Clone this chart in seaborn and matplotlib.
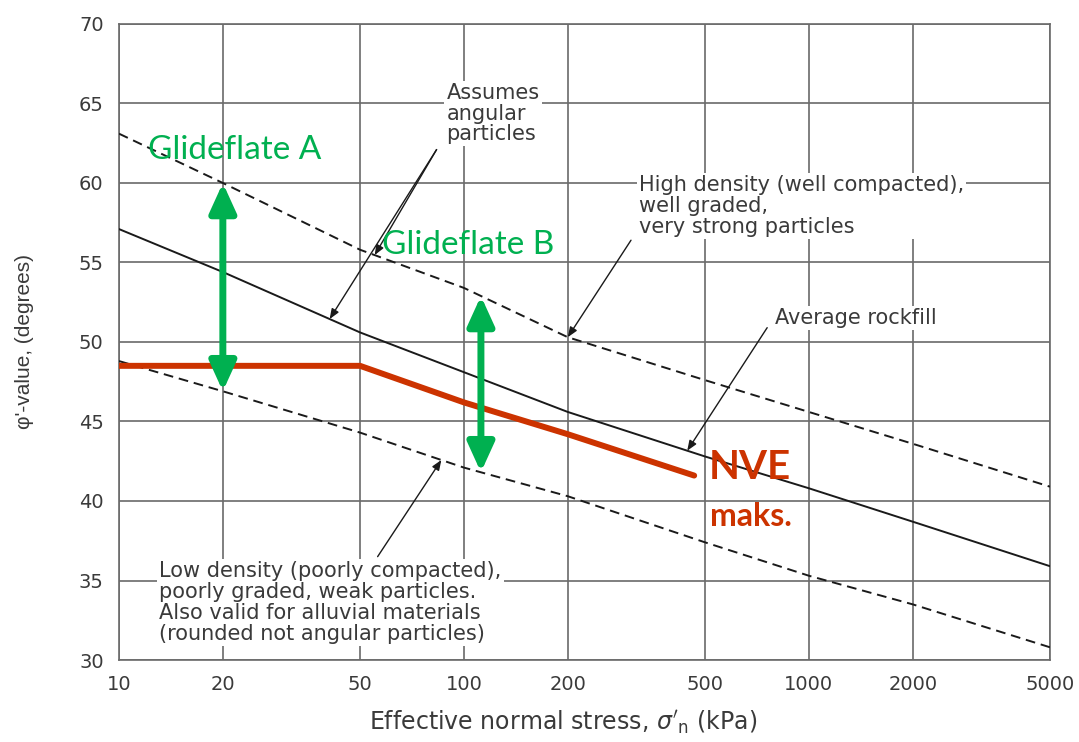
import numpy as np
import pandas as pd
import matplotlib
matplotlib.use("Agg")
import matplotlib.pyplot as plt
import seaborn as sns
from matplotlib.patches import FancyArrowPatch

# Effective normal stress (kPa) at which the design curves are read
stress = [10, 20, 50, 100, 200, 500, 1000, 2000, 5000]
# Friction angle phi' (degrees) for the three rockfill curves
phi_high = [63.1, 60.0, 55.8, 53.4, 50.3, 47.6, 45.6, 43.6, 40.9]
phi_avg = [57.1, 54.4, 50.6, 48.1, 45.6, 42.8, 40.8, 38.7, 35.9]
phi_low = [48.8, 46.9, 44.3, 42.1, 40.3, 37.4, 35.3, 33.5, 30.8]

# NVE maximum design line
nve_stress = [10, 50, 100, 200, 465]
nve_phi = [48.5, 48.5, 46.2, 44.2, 41.6]

# Stress levels of the two slide-plane ranges (Glideflate A / B)
glide_stress = [20, 112]
glide_labels = ["Glideflate A", "Glideflate B"]

x_ticks = [10, 20, 50, 100, 200, 500, 1000, 2000, 5000]
y_ticks = [30, 35, 40, 45, 50, 55, 60, 65, 70]

sns.set_theme(style="white")
plt.rcParams["font.family"] = ["DejaVu Sans"]
plt.rcParams["mathtext.fontset"] = "dejavusans"

TXT = "#3a3a3a"
GRID = "#6a6a6a"
GREEN = "#00b050"
RED = "#cc3300"
CALIBRI_LIKE = ["Lato", "DejaVu Sans"]

fig = plt.figure(figsize=(10.79, 7.42), dpi=100)
ax = fig.add_axes([0.1103, 0.1105, 0.8628, 0.8572])


def phi_at(x, xs, ys):
    return float(np.interp(np.log10(x), np.log10(xs), ys))


curves = pd.DataFrame({
    "stress": stress * 3,
    "phi": phi_high + phi_avg + phi_low,
    "curve": ["high"] * 9 + ["avg"] * 9 + ["low"] * 9,
})

sns.lineplot(data=curves[curves.curve == "high"], x="stress", y="phi",
             ax=ax, color="#1a1a1a", lw=1.4, dashes=(5, 3), zorder=3)
sns.lineplot(data=curves[curves.curve == "low"], x="stress", y="phi",
             ax=ax, color="#1a1a1a", lw=1.4, dashes=(5, 3), zorder=3)
sns.lineplot(data=curves[curves.curve == "avg"], x="stress", y="phi",
             ax=ax, color="#1a1a1a", lw=1.4, zorder=3)
sns.lineplot(x=nve_stress, y=nve_phi, ax=ax, color=RED, lw=4.3, zorder=4)

ax.set_xscale("log")
ax.set_xlim(10, 5000)
ax.set_ylim(30, 70)
ax.set_xticks(x_ticks)
ax.set_xticklabels([str(t) for t in x_ticks])
ax.minorticks_off()
ax.set_yticks(y_ticks)
ax.set_yticklabels([str(t) for t in y_ticks])
ax.grid(True, color=GRID, lw=1.2, zorder=0)
for s in ax.spines.values():
    s.set_color(GRID)
    s.set_linewidth(1.2)
ax.tick_params(axis="both", which="major", direction="out", length=4,
               width=1.0, color=GRID, labelsize=14, labelcolor=TXT, pad=7)
ax.set_xlabel(r"Effective normal stress, $\sigma'_{\rm n}$ (kPa)",
              fontsize=17, color=TXT, va="center")
ax.xaxis.set_label_coords(0.477, -0.0975)
ax.set_ylabel("φ'-value, (degrees)", fontsize=15, color=TXT,
              family=["Liberation Sans", "DejaVu Sans"], va="center")
ax.yaxis.set_label_coords(-0.101, 0.5)

note = dict(fontsize=15, color=TXT, linespacing=1.05, zorder=5,
            bbox=dict(facecolor="white", edgecolor="none", pad=1.5))
arrow = dict(arrowstyle="-|>,head_length=0.5,head_width=0.2",
             color="#1a1a1a", lw=1.0, shrinkA=0, shrinkB=0)

# Assumes angular particles -> high and average curves
start = (83.3, 62.1)
ax.annotate("", xy=(55.1, phi_at(55.1, stress, phi_high)), xytext=start,
            arrowprops=arrow, zorder=5)
ax.annotate("", xy=(40.8, phi_at(40.8, stress, phi_avg)), xytext=start,
            arrowprops=arrow, zorder=5)
ax.text(89, 66.3, "Assumes\nangular\nparticles", ha="left", va="top", **note)

ax.annotate("", xy=(200, phi_at(200, stress, phi_high)), xytext=(305, 56.4),
            arrowprops=arrow, zorder=5)
ax.text(322, 60.5, "High density (well compacted),\nwell graded,\nvery strong particles",
        ha="left", va="top", **note)

ax.annotate("", xy=(444, phi_at(444, stress, phi_avg)), xytext=(757, 50.9),
            arrowprops=arrow, zorder=5)
ax.text(800, 51.5, "Average rockfill", ha="left", va="center", **note)

ax.annotate("", xy=(86, phi_at(86, stress, phi_low)), xytext=(56.2, 36.5),
            arrowprops=arrow, zorder=5)
ax.text(13.1, 36.2, "Low density (poorly compacted),\npoorly graded, weak particles.\n"
        "Also valid for alluvial materials\n(rounded not angular particles)",
        ha="left", va="top", **note)

# Slide-plane ranges between the low and high density curves
for xs in glide_stress:
    lo = phi_at(xs, stress, phi_low)
    hi = phi_at(xs, stress, phi_high)
    ax.add_patch(FancyArrowPatch(
        (xs, lo), (xs, hi),
        arrowstyle="<|-|>,head_length=1.1,head_width=0.5",
        mutation_scale=16, color=GREEN, lw=5, shrinkA=0, shrinkB=0, zorder=6))

ax.text(12.1, 62.1, glide_labels[0], color=GREEN, fontsize=24,
        family=CALIBRI_LIKE, ha="left", va="center", zorder=7)
ax.text(58.0, 56.1, glide_labels[1], color=GREEN, fontsize=24,
        family=CALIBRI_LIKE, ha="left", va="center", zorder=7)

ax.text(514, 42.1, "NVE", color=RED, fontsize=29, fontweight="bold",
        family=CALIBRI_LIKE, ha="left", va="center", zorder=7)
ax.text(516, 39.0, "maks.", color=RED, fontsize=23, fontweight="bold",
        family=CALIBRI_LIKE, ha="left", va="center", zorder=7)

fig.savefig("out.png", dpi=100, facecolor="white")
